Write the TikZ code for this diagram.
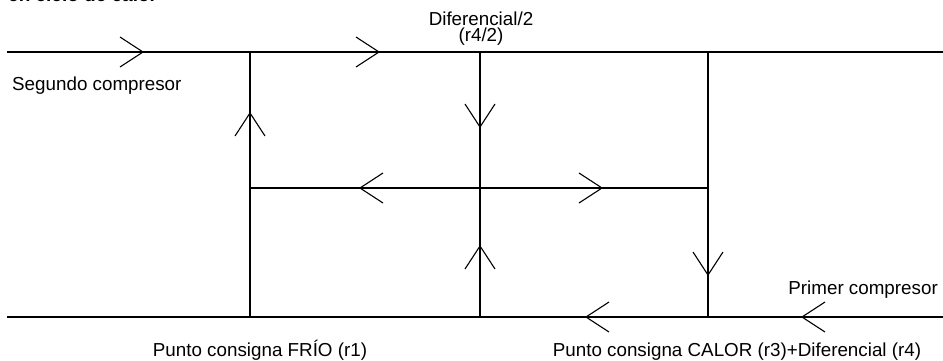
\documentclass[tikz,border=0pt]{standalone}
\usepackage{fontspec}
\setmainfont{Liberation Sans}
\begin{document}
\begin{tikzpicture}[x=1pt,y=-1pt,
  wire/.style={line width=1.1pt,black},
  lbl/.style={inner sep=0pt,font=\fontsize{18.8}{16}\selectfont},
  chevron/.pic={\draw[wire,line join=miter] (-23,15) -- (0,0) -- (-23,-15);}]
\useasboundingbox (0,0) rectangle (943,360);
\clip (0,0) rectangle (943,360);

% heading, partly above the frame
\node[anchor=base west,inner sep=0pt,font=\fontsize{19}{19}\selectfont\bfseries] (title) at (8,1.5) {en ciclo de calor};

% junctions
\coordinate (tl) at (7,52);   \coordinate (tr) at (943,52);
\coordinate (bl) at (7,317);  \coordinate (br) at (943,317);
\coordinate (at) at (250,52); \coordinate (am) at (250,188); \coordinate (ab) at (250,317);
\coordinate (bt) at (480,52); \coordinate (bm) at (480,188); \coordinate (bb) at (480,317);
\coordinate (ct) at (708,52); \coordinate (cm) at (708,188); \coordinate (cb) at (708,317);

% lines
\draw[wire] (tl) -- (tr);
\draw[wire] (bl) -- (br);
\draw[wire] (am) -- (cm);
\draw[wire] (at) -- (ab);
\draw[wire] (bt) -- (bb);
\draw[wire] (ct) -- (cb);

% flow chevrons
\pic at (143,52) {chevron};
\pic at (379,52) {chevron};
\pic[rotate=180] at (360,188) {chevron};
\pic at (602,188) {chevron};
\pic[rotate=180] at (586,317) {chevron};
\pic[rotate=180] at (802,317) {chevron};
\pic[rotate=90] at (250,113) {chevron};
\pic[rotate=-90] at (480,127) {chevron};
\pic[rotate=90] at (480,246) {chevron};
\pic[rotate=-90] at (708,275) {chevron};

% labels
\node[lbl,anchor=base] (dif) at (481,25) {Diferencial/2};
\node[lbl,anchor=base] (difr) at (481,41) {(r4/2)};
\node[lbl,anchor=base west] (seg) at (12,90) {Segundo compresor};
\node[lbl,anchor=base east] (pri) at (938,294) {Primer compresor};
\node[lbl,anchor=base] (frio) at (260,356) {Punto consigna FRÍO (r1)};
\node[lbl,anchor=base] (calor) at (737,356) {Punto consigna CALOR (r3)+Diferencial (r4)};
\end{tikzpicture}
\end{document}
